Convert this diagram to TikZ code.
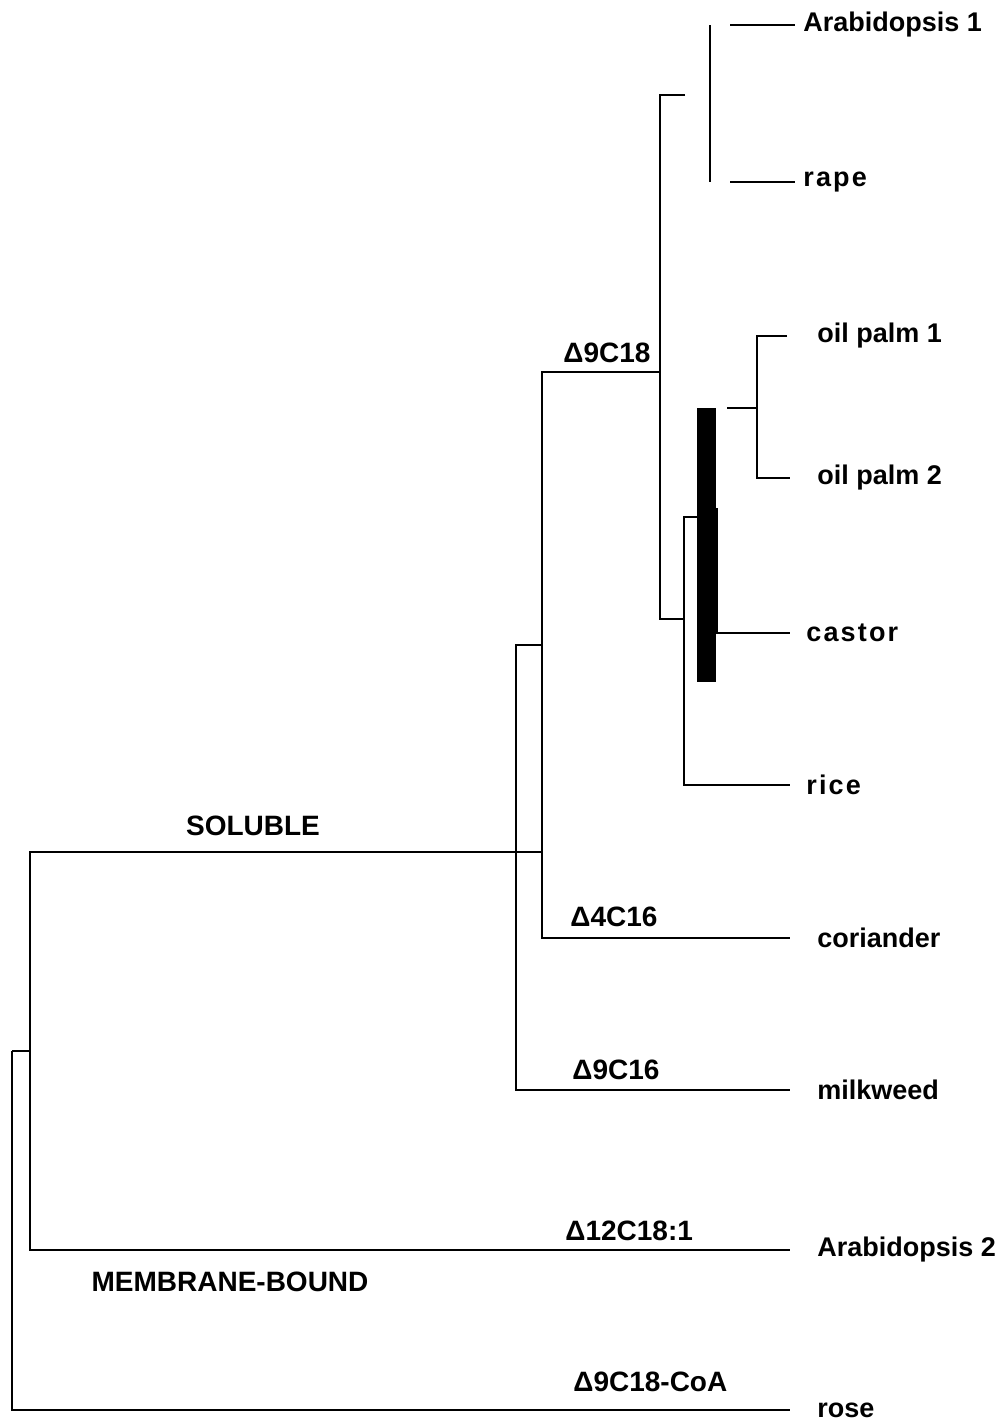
\documentclass[tikz,border=0pt]{standalone}
\usepackage{fontspec}
\setmainfont{Liberation Sans}
\newfontfamily\spacedsans[LetterSpace=8]{Liberation Sans}

\tikzset{
  branch/.style={line width=1.1pt},
  leaf/.style={anchor=west, inner ysep=0pt, inner xsep=#1, font=\fontsize{13.5}{16}\selectfont\bfseries},
  leaf/.default=13.5pt,
  enzyme/.style={anchor=west, inner sep=0pt, font=\fontsize{14}{16}\selectfont\bfseries},
  group/.style={inner sep=0pt, font=\fontsize{14}{16}\selectfont\bfseries},
  bar/.style={fill=black, inner sep=0pt, minimum width=9.5pt, minimum height=137pt},
}

\begin{document}
\begin{tikzpicture}[x=0.5pt,y=-0.5pt]
\useasboundingbox (0,0) rectangle (1003,1420);

% branch points
\coordinate (root) at (12,1051);
\coordinate (mb) at (30,1051);
\coordinate (sol) at (542,852);
\coordinate (m9) at (516,645);
\coordinate (c18) at (660,372);
\coordinate (top18) at (685,95);
\coordinate (ric) at (684,619);
\coordinate (ca) at (697,517);
\coordinate (brt) at (710,25);
\coordinate (brb) at (710,182);
\coordinate (a1) at (730,25);
\coordinate (rp) at (730,182);
\coordinate (opin) at (727,408);
\coordinate (op) at (757,408);
\coordinate (cs) at (717,508);

% leaves
\node[leaf=4pt] (arab1) at (795,25) {Arabidopsis 1};
\node[leaf=4pt] (rape) at (795,182) {\spacedsans rape};
\node[leaf=15pt] (palm1) at (787,336) {oil palm 1};
\node[leaf=13.5pt] (palm2) at (790,478) {oil palm 2};
\node[leaf=8pt] (castor) at (790,633) {\spacedsans castor};
\node[leaf=8pt] (rice) at (790,785) {\spacedsans rice};
\node[leaf] (coriander) at (790,938) {coriander};
\node[leaf] (milkweed) at (790,1090) {milkweed};
\node[leaf] (arab2) at (790,1250) {Arabidopsis 2};
\node[leaf] (rose) at (790,1410) {rose};

\node[bar] (bar) at (706.5,545) {};

% membrane-bound
\draw[branch] (root) -- (mb);
\draw[branch] (root) |- (rose.west);
\draw[branch] (sol) -| (mb) |- (arab2.west);

% soluble
\draw[branch] (c18) -| (sol) |- (coriander.west);
\draw[branch] (m9 -| sol) -- (m9) |- (milkweed.west);
\draw[branch] (top18) -| (c18) |- (ric);
\draw[branch] (ca) -| (ric) |- (rice.west);
\draw[branch] (brt) -- (brb);
\draw[branch] (a1) -- (arab1.west);
\draw[branch] (rp) -- (rape.west);
\draw[branch] (opin) -- (op);
\draw[branch] (palm1.west) -| (op) |- (palm2.west);
\draw[branch] (cs) |- (castor.west);

% labels
\node[group] (soluble) at (253,826) {SOLUBLE};
\node[group] (membrane) at (230,1282) {MEMBRANE-BOUND};
\node[enzyme] (e9c18) at (563,353) {Δ9C18};
\node[enzyme] (e4c16) at (570,917) {Δ4C16};
\node[enzyme] (e9c16) at (572,1070) {Δ9C16};
\node[enzyme] (e12c18) at (565,1231) {Δ12C18:1};
\node[enzyme] (e9coa) at (573,1382) {Δ9C18-CoA};
\end{tikzpicture}
\end{document}
